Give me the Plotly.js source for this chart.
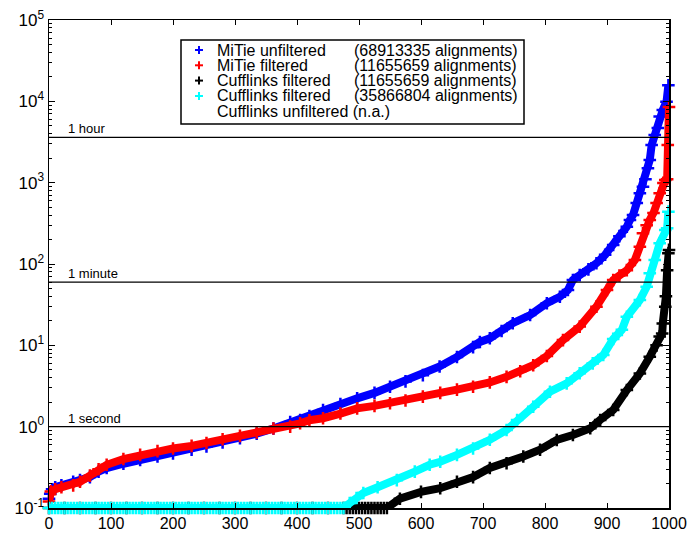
<!DOCTYPE html>
<html>
<head>
<meta charset="utf-8">
<script src="https://cdn.plot.ly/plotly-3.0.1.min.js"></script>
<style>
  html, body { margin: 0; padding: 0; background: #fff; }
  #chart { width: 688px; height: 534px; }
</style>
</head>
<body>
<div id="chart"></div>
<script>
// Sorted running times (seconds) per rank, for each tool / input set
const xMitieUnfilt = [0,2,5,10,20,39,50,66,80,93,120,147,175,200,230,254,280,308,335,362,389,405,420,442,470,497,525,550,575,603,630,658,684,695,711,730,748,776,803,824,837,845,856,870,883,897,910,920,932,937,942,948,953,958,962,966,969,972,977,982,985,990,996,999];
const yMitieUnfilt = [0.13,0.15,0.17,0.18,0.19,0.21,0.22,0.24,0.28,0.31,0.35,0.39,0.43,0.47,0.52,0.57,0.64,0.72,0.82,0.95,1.14,1.21,1.35,1.6,1.9,2.23,2.6,3.1,3.6,4.3,5.5,7.2,9.5,11,12.2,15,18.7,23.6,32.9,39.6,47.9,63.5,73,86,102,130,171,220,288,348,401,563,740,890,1100,1500,1900,2900,3850,4700,6500,7830,9900,15800];

const xMitieFilt = [0,3,10,20,39,50,66,80,93,120,147,175,200,230,254,280,308,335,362,389,405,420,442,470,497,525,550,575,603,631,658,684,711,738,760,781,803,829,856,883,900,910,920,932,945,953,958,964,969,975,980,985,991,994,997,998,1000];
const yMitieFilt = [0.12,0.16,0.17,0.18,0.19,0.21,0.25,0.30,0.34,0.40,0.45,0.50,0.54,0.58,0.63,0.70,0.77,0.85,0.95,1.0,1.1,1.2,1.27,1.45,1.68,1.8,1.94,2.1,2.34,2.6,2.85,3.1,3.5,4.1,4.8,5.7,7.4,11.6,17,29.9,47.9,63.5,72,84,112,163,238,300,348,424,563,740,990,1080,1100,2900,8500];

const xCuffFilt = [0,25,50,75,100,125,150,175,200,225,250,275,300,325,350,375,400,425,450,475,
  480,485,490,495,500,505,510,515,520,525,530,535,540,545,
  566,600,631,658,684,711,738,765,792,819,845,873,889,910,932,953,969,980,985,989,990,994,995,997,999,1000];
const yCuffFilt = [0.1,0.1,0.1,0.1,0.1,0.1,0.1,0.1,0.1,0.1,0.1,0.1,0.1,0.1,0.1,0.1,0.1,0.1,0.1,0.1,
  0.1,0.1,0.1,0.1,0.1,0.1,0.1,0.1,0.1,0.1,0.1,0.1,0.1,0.1,
  0.13,0.158,0.175,0.21,0.24,0.31,0.355,0.43,0.52,0.685,0.79,0.955,1.21,1.6,2.82,4.5,7.25,10,12.8,14,18.6,29.9,40,84,136,149];

const xCuffFilt2 = [0,5,10,15,20,25,30,35,40,45,50,55,60,65,70,75,80,85,90,95,
  100,105,110,115,120,125,130,135,140,145,150,155,160,165,170,175,180,185,190,195,
  200,205,210,215,220,225,230,235,240,245,250,255,260,265,270,275,280,285,290,295,
  300,305,310,315,320,325,330,335,340,345,350,355,360,365,370,375,380,385,390,395,
  400,405,410,415,420,425,430,435,440,445,450,455,460,465,470,475,
  485,496,507,530,561,590,614,631,658,684,711,738,755,781,808,835,856,877,894,910,924,932,953,964,969,977,985,994,997,999];
const yCuffFilt2 = [0.1,0.1,0.1,0.1,0.1,0.1,0.1,0.1,0.1,0.1,0.1,0.1,0.1,0.1,0.1,0.1,0.1,0.1,0.1,0.1,
  0.1,0.1,0.1,0.1,0.1,0.1,0.1,0.1,0.1,0.1,0.1,0.1,0.1,0.1,0.1,0.1,0.1,0.1,0.1,0.1,
  0.1,0.1,0.1,0.1,0.1,0.1,0.1,0.1,0.1,0.1,0.1,0.1,0.1,0.1,0.1,0.1,0.1,0.1,0.1,0.1,
  0.1,0.1,0.1,0.1,0.1,0.1,0.1,0.1,0.1,0.1,0.1,0.1,0.1,0.1,0.1,0.1,0.1,0.1,0.1,0.1,
  0.1,0.1,0.1,0.1,0.1,0.1,0.1,0.1,0.1,0.1,0.1,0.1,0.1,0.1,0.1,0.1,
  0.115,0.133,0.153,0.18,0.22,0.28,0.34,0.37,0.45,0.54,0.69,0.91,1.21,1.76,2.69,3.41,4.53,6.0,7.6,12,15.5,22.5,36,52.6,76.7,112,180,262,275,440];

// Reference durations in seconds
const refValues = [3600, 60, 1];
const refLabels = ['1 hour', '1 minute', '1 second'];

// Log axis decades and their labels
const yTickVals = [0.1, 1, 10, 100, 1000, 10000, 100000];
const yTickText = ['10<sup>-1</sup>', '10<sup>0</sup>', '10<sup>1</sup>', '10<sup>2</sup>', '10<sup>3</sup>', '10<sup>4</sup>', '10<sup>5</sup>'];

// Legend entries
const legendNames = ['MiTie unfiltered', 'MiTie filtered', 'Cufflinks filtered', 'Cufflinks filtered', 'Cufflinks unfiltered (n.a.)'];
const legendCounts = ['(68913335 alignments)', '(11655659 alignments)', '(11655659 alignments)', '(35866804 alignments)', ''];
const seriesColors = ['#0000ff', '#ff0000', '#000000', '#00ffff'];

const FONT = 'Liberation Sans, Arial, Helvetica, sans-serif';

function series(x, y, color) {
  return {
    type: 'scatter', mode: 'lines+markers', x: x, y: y,
    cliponaxis: false,
    line: { color: color, width: 8 },
    marker: { symbol: 'cross-thin', size: 9, color: color, line: { color: color, width: 2.5 } },
    hoverinfo: 'x+y'
  };
}

const traces = [
  series(xMitieUnfilt, yMitieUnfilt, seriesColors[0]),
  series(xMitieFilt, yMitieFilt, seriesColors[1]),
  series(xCuffFilt, yCuffFilt, seriesColors[2]),
  series(xCuffFilt2, yCuffFilt2, seriesColors[3])
];

refValues.forEach(function (v) {
  traces.push({
    type: 'scatter', mode: 'lines', x: [0, 1000], y: [v, v],
    line: { color: '#000', width: 1.3 }, hoverinfo: 'skip'
  });
});

// plot area in pixels
const L = 49, R = 669, T = 20, B = 508;
function px2x(p) { return (p - L) / (R - L); }
function px2y(p) { return (B - p) / (B - T); }

const shapes = [];
const annotations = [];

refValues.forEach(function (v, i) {
  annotations.push({
    x: 27, y: Math.log10(v), xref: 'x', yref: 'y',
    xanchor: 'left', yanchor: 'bottom', yshift: -1, showarrow: false,
    text: refLabels[i], font: { family: FONT, size: 13, color: '#000' }
  });
});

// legend box
shapes.push({
  type: 'rect', xref: 'paper', yref: 'paper',
  x0: px2x(181), x1: px2x(524), y0: px2y(124), y1: px2y(40),
  line: { color: '#000', width: 1.5 }, fillcolor: '#fff', layer: 'above'
});
const rowY = [50, 65.3, 80.6, 96, 111.3];
legendNames.forEach(function (name, i) {
  const cy = rowY[i];
  if (i < seriesColors.length) {
    const c = seriesColors[i];
    shapes.push({ type: 'line', xref: 'paper', yref: 'paper', x0: px2x(195), x1: px2x(203), y0: px2y(cy), y1: px2y(cy), line: { color: c, width: 2 } });
    shapes.push({ type: 'line', xref: 'paper', yref: 'paper', x0: px2x(199), x1: px2x(199), y0: px2y(cy - 4), y1: px2y(cy + 4), line: { color: c, width: 2 } });
  }
  annotations.push({
    x: px2x(215), y: px2y(cy), xref: 'paper', yref: 'paper',
    xanchor: 'left', yanchor: 'middle', showarrow: false,
    text: name, font: { family: FONT, size: 16, color: '#000' }
  });
  if (legendCounts[i]) {
    annotations.push({
      x: px2x(352), y: px2y(cy), xref: 'paper', yref: 'paper',
      xanchor: 'left', yanchor: 'middle', showarrow: false,
      text: legendCounts[i], font: { family: FONT, size: 16, color: '#000' }
    });
  }
});

const layout = {
  width: 688, height: 534,
  margin: { l: L, r: 688 - R, t: T, b: 534 - B, pad: 0 },
  paper_bgcolor: '#fff', plot_bgcolor: '#fff',
  showlegend: false,
  font: { family: FONT, color: '#000' },
  xaxis: {
    range: [0, 1000], tickmode: 'linear', tick0: 0, dtick: 100,
    ticks: 'inside', ticklen: 5, tickwidth: 1, tickcolor: '#000',
    showline: true, linecolor: '#000', linewidth: 1.5, mirror: 'ticks',
    showgrid: false, zeroline: false,
    tickfont: { family: FONT, size: 16, color: '#000' }
  },
  yaxis: {
    type: 'log', range: [-1, 5],
    tickmode: 'array', tickvals: yTickVals, ticktext: yTickText,
    ticks: 'inside', ticklen: 6, tickwidth: 1, tickcolor: '#000',
    minor: { ticks: 'inside', ticklen: 3, tickcolor: '#000', dtick: 'D1', showgrid: false },
    showline: true, linecolor: '#000', linewidth: 1.5, mirror: 'ticks',
    showgrid: false, zeroline: false,
    tickfont: { family: FONT, size: 17, color: '#000' }
  },
  shapes: shapes,
  annotations: annotations
};

Plotly.newPlot('chart', traces, layout, { staticPlot: true, displayModeBar: false });
</script>
</body>
</html>
